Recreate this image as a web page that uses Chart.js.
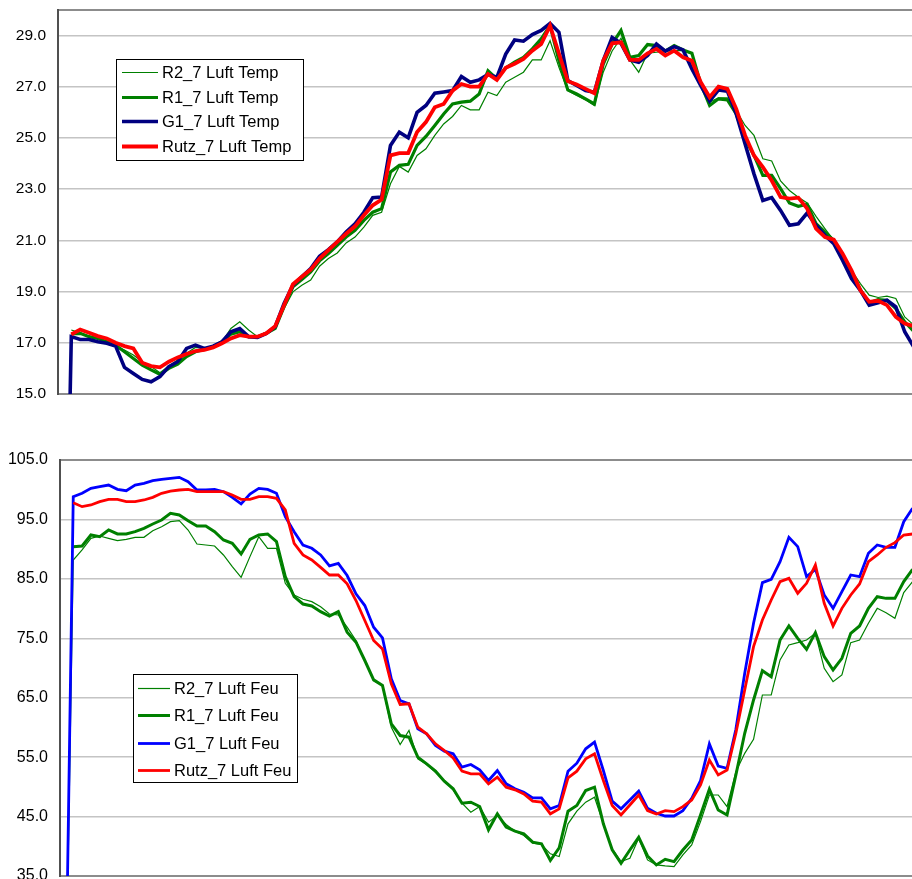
<!DOCTYPE html>
<html>
<head>
<meta charset="utf-8">
<script src="https://cdn.jsdelivr.net/npm/chart.js@4.4.1/dist/chart.umd.min.js"></script>
<style>
    html, body { margin: 0; padding: 0; background: #fff; overflow: hidden; width: 912px; height: 879px; }
    .panel { position: absolute; left: 0; }
    #tempPanel { top: 0; }
    #feuPanel { top: 448px; }
</style>
</head>
<body>
<div class="panel" id="tempPanel"><canvas id="tempChart" width="918" height="404"></canvas></div>
<div class="panel" id="feuPanel"><canvas id="feuChart" width="917" height="442"></canvas></div>
<script>
// sample index along the x axis (no labels shown on the original)
const steps = Array.from({ length: 97 }, (_, i) => i + 1);

// --- air temperature ---
const tempTicks = [15, 17, 19, 21, 23, 25, 27, 29];
const r2Temp = [null, 17.5, 17.39, 17.26, 17.17, 17.04, 16.87, 16.72, 16.52, 16.26, 16.07, 15.83, 16.09, 16.33, 16.59, 16.82, 16.78, 16.87, 17.04, 17.56, 17.82, 17.5, 17.24, 17.34, 17.56, 18.34, 18.99, 19.25, 19.45, 19.99, 20.29, 20.51, 20.9, 21.13, 21.52, 21.98, 22.1, 23.21, 23.89, 23.67, 24.32, 24.58, 25.1, 25.55, 25.84, 26.27, 26.1, 26.1, 26.79, 26.66, 27.18, 27.37, 27.57, 28.05, 28.05, 28.8, 27.76, 26.85, 26.66, 26.49, 26.27, 27.57, 28.4, 28.9, 28.05, 27.57, 28.31, 28.35, 28.39, 28.41, 28.41, 28.28, 27.05, 26.4, 26.57, 26.57, 26.07, 25.49, 25.1, 24.19, 24.1, 23.32, 22.95, 22.69, 22.46, 21.94, 21.46, 21.0, 20.38, 19.83, 19.31, 18.86, 18.77, 18.82, 18.73, 18.01, 17.7];
const r1Temp = [null, 17.35, 17.37, 17.24, 17.17, 17.04, 16.91, 16.65, 16.39, 16.13, 15.94, 15.77, 16.0, 16.17, 16.46, 16.65, 16.74, 16.85, 17.04, 17.34, 17.43, 17.24, 17.24, 17.37, 17.56, 18.41, 19.19, 19.47, 19.77, 20.2, 20.49, 20.81, 21.13, 21.39, 21.78, 22.1, 22.24, 23.67, 23.93, 23.97, 24.71, 25.06, 25.49, 25.94, 26.33, 26.4, 26.44, 26.72, 27.63, 27.31, 27.74, 27.96, 28.15, 28.48, 28.87, 29.39, 28.02, 26.88, 26.72, 26.53, 26.33, 27.89, 28.67, 29.2, 28.15, 28.22, 28.65, 28.61, 28.39, 28.61, 28.44, 28.31, 27.11, 26.27, 26.53, 26.49, 25.94, 24.97, 24.32, 23.54, 23.54, 23.02, 22.46, 22.33, 22.41, 21.65, 21.33, 21.0, 20.35, 19.7, 19.08, 18.56, 18.69, 18.66, 18.34, 17.82, 17.45];
const g1Temp = [0, 17.24, 17.13, 17.13, 17.04, 16.98, 16.87, 16.04, 15.8, 15.57, 15.48, 15.68, 16.07, 16.26, 16.78, 16.91, 16.78, 16.87, 17.04, 17.43, 17.56, 17.24, 17.21, 17.37, 17.63, 18.54, 19.25, 19.58, 19.9, 20.38, 20.64, 20.94, 21.33, 21.65, 22.1, 22.67, 22.69, 24.71, 25.23, 25.01, 26.0, 26.27, 26.75, 26.8, 26.85, 27.4, 27.18, 27.27, 27.48, 27.37, 28.28, 28.83, 28.78, 29.04, 29.2, 29.48, 29.13, 27.24, 27.05, 26.85, 26.79, 28.02, 28.93, 28.7, 28.05, 27.96, 28.22, 28.67, 28.39, 28.57, 28.44, 27.7, 27.05, 26.44, 26.88, 26.83, 25.94, 24.77, 23.6, 22.56, 22.67, 22.17, 21.59, 21.65, 22.07, 21.59, 21.2, 20.87, 20.22, 19.51, 19.05, 18.47, 18.56, 18.66, 18.4, 17.43, 16.85];
const rutzTemp = [null, 17.33, 17.52, 17.39, 17.26, 17.17, 17.0, 16.87, 16.78, 16.22, 16.09, 16.04, 16.26, 16.43, 16.56, 16.68, 16.72, 16.82, 16.98, 17.17, 17.3, 17.24, 17.24, 17.37, 17.65, 18.47, 19.29, 19.58, 19.86, 20.29, 20.62, 20.94, 21.26, 21.55, 21.98, 22.37, 22.59, 24.32, 24.41, 24.41, 25.23, 25.62, 26.2, 26.33, 26.85, 27.11, 27.01, 27.01, 27.5, 27.27, 27.74, 27.9, 28.09, 28.41, 28.67, 29.39, 28.3, 27.22, 27.09, 26.92, 26.75, 28.02, 28.7, 28.74, 28.05, 28.05, 28.31, 28.48, 28.22, 28.41, 28.15, 28.02, 27.18, 26.59, 27.01, 26.92, 26.14, 25.1, 24.32, 23.86, 23.34, 22.69, 22.63, 22.67, 22.24, 21.46, 21.13, 21.03, 20.48, 19.83, 19.05, 18.6, 18.64, 18.47, 18.01, 17.75, 17.65];

// --- air humidity ---
const feuTicks = [35, 45, 55, 65, 75, 85, 95, 105];
const r2Feu = [0, 88.17, 89.86, 91.82, 92.21, 91.82, 91.43, 91.65, 91.99, 91.99, 93.11, 93.78, 94.62, 94.79, 93.22, 90.87, 90.7, 90.53, 89.02, 87.05, 85.26, 88.74, 92.1, 90.14, 90.14, 84.25, 82.29, 81.56, 81.16, 80.32, 79.09, 78.92, 76.87, 74.62, 71.26, 67.89, 67.05, 60.04, 57.13, 59.48, 54.71, 53.76, 52.47, 50.96, 49.5, 47.25, 45.74, 46.69, 44.06, 45.18, 43.67, 42.55, 41.82, 40.53, 40.3, 38.73, 38.28, 43.78, 45.91, 47.42, 48.26, 43.78, 39.57, 37.42, 37.98, 41.34, 37.7, 36.86, 36.69, 36.58, 38.54, 40.22, 44.15, 48.63, 48.63, 46.67, 52.56, 55.64, 58.0, 65.46, 65.46, 71.35, 73.87, 74.27, 74.71, 75.84, 69.95, 67.7, 68.83, 74.27, 74.71, 77.52, 80.04, 79.31, 78.36, 82.68, 84.53];
const r1Feu = [null, 90.42, 90.53, 92.38, 92.1, 93.22, 92.55, 92.55, 92.94, 93.5, 94.23, 94.9, 96.03, 95.75, 94.79, 93.9, 93.9, 92.94, 91.54, 90.98, 89.18, 91.65, 92.38, 92.55, 91.26, 85.37, 82.0, 80.77, 80.43, 79.48, 78.75, 79.48, 76.03, 74.34, 71.26, 68.0, 67.05, 60.6, 58.64, 58.36, 55.0, 53.87, 52.64, 50.96, 49.67, 47.25, 47.42, 46.69, 42.77, 45.46, 43.22, 42.55, 42.1, 40.7, 40.41, 37.61, 39.74, 45.91, 46.86, 49.39, 49.95, 43.78, 39.4, 37.14, 39.38, 41.51, 38.37, 36.86, 37.81, 37.42, 39.38, 41.06, 45.27, 49.59, 46.11, 45.27, 52.0, 59.01, 64.62, 69.55, 68.54, 74.71, 77.07, 74.99, 73.14, 75.95, 71.91, 69.67, 71.63, 75.84, 77.07, 80.04, 82.0, 81.72, 81.72, 84.53, 86.6];
const g1Feu = [0, 98.83, 99.39, 100.23, 100.51, 100.79, 100.06, 99.84, 100.79, 101.07, 101.52, 101.75, 101.92, 102.08, 101.35, 99.95, 99.95, 100.06, 99.67, 98.72, 97.6, 99.28, 100.23, 100.06, 99.39, 95.47, 92.94, 90.7, 90.14, 89.02, 87.17, 87.6, 85.56, 82.48, 80.51, 76.87, 75.07, 68.17, 64.53, 63.97, 59.76, 58.92, 56.96, 56.0, 55.56, 53.31, 53.76, 52.86, 51.07, 52.75, 50.51, 49.67, 49.1, 48.15, 48.15, 46.3, 46.86, 52.64, 53.98, 56.4, 57.52, 52.75, 47.59, 46.3, 47.79, 49.3, 46.39, 45.55, 45.1, 45.1, 46.0, 48.07, 51.05, 57.22, 53.51, 53.12, 59.68, 69.11, 77.52, 84.36, 84.92, 87.89, 91.99, 90.42, 85.37, 86.6, 82.29, 80.04, 82.85, 85.65, 85.37, 89.3, 90.7, 90.31, 90.31, 94.62, 96.87];
const rutzFeu = [null, 97.82, 97.15, 97.43, 97.99, 98.38, 98.38, 97.99, 97.99, 98.27, 98.72, 99.39, 99.78, 99.95, 100.06, 99.67, 99.67, 99.67, 99.67, 99.11, 98.38, 98.38, 98.83, 98.83, 98.55, 96.59, 90.98, 89.02, 88.17, 86.94, 85.65, 85.65, 84.16, 81.35, 77.99, 74.62, 73.22, 67.33, 63.86, 63.97, 60.04, 58.92, 57.24, 56.12, 54.88, 52.64, 52.19, 52.19, 50.51, 51.63, 49.95, 49.5, 48.82, 47.59, 47.42, 45.46, 46.3, 51.52, 52.64, 54.71, 55.56, 51.07, 46.86, 45.27, 46.95, 48.63, 46.0, 45.44, 46.0, 45.83, 46.67, 47.79, 50.32, 54.52, 52.0, 52.84, 59.01, 66.3, 73.59, 78.08, 81.44, 84.53, 85.09, 82.57, 84.25, 87.33, 80.88, 77.07, 80.04, 82.29, 84.14, 87.89, 89.02, 90.31, 91.09, 92.38, 92.55];

const FONT = '"Liberation Sans", Arial, sans-serif';

// legend drawn as a framed box inside the plot, like the spreadsheet original
const boxLegend = {
    id: 'boxLegend',
    afterDraw(chart, args, o) {
        const ctx = chart.ctx;
        ctx.save();
        ctx.fillStyle = '#fff';
        ctx.fillRect(o.x, o.y, o.w, o.h);
        ctx.strokeStyle = '#000';
        ctx.lineWidth = 1;
        ctx.strokeRect(o.x + 0.5, o.y + 0.5, o.w, o.h);
        ctx.font = o.size + 'px ' + FONT;
        ctx.textBaseline = 'middle';
        ctx.textAlign = 'left';
        chart.data.datasets.forEach(function (ds, k) {
            let yy = Math.round(o.y + o.first + k * o.gap) + 0.5;
            ctx.strokeStyle = ds.borderColor;
            ctx.lineWidth = ds.borderWidth;
            ctx.beginPath();
            ctx.moveTo(o.x + o.lineFrom, yy);
            ctx.lineTo(o.x + o.lineTo, yy);
            ctx.stroke();
            ctx.fillStyle = '#000';
            ctx.fillText(ds.label, o.x + o.textAt, yy + 1);
        });
        ctx.restore();
    }
};

function series(label, data, color, width, order) {
    return {
        label: label, data: data, borderColor: color, backgroundColor: color,
        borderWidth: width, pointRadius: 0, pointHoverRadius: 0, tension: 0,
        fill: false, spanGaps: false, order: order
    };
}

function panelOptions(ticks, min, max, axisWidth, fontSize, pad, legend) {
    return {
        responsive: false,
        animation: false,
        devicePixelRatio: 1,
        layout: { padding: pad },
        plugins: { legend: { display: false }, tooltip: { enabled: false }, boxLegend: legend },
        scales: {
            x: { type: 'category', display: false, offset: true },
            y: {
                min: min, max: max,
                afterFit: function (scale) {
                    // fixed axis width, and no extra room asked for the end labels
                    scale.width = axisWidth;
                    scale.paddingTop = 0;
                    scale.paddingBottom = 0;
                },
                afterBuildTicks: function (scale) {
                    scale.ticks = ticks.concat(ticks.indexOf(max) < 0 ? [max] : []).map(function (v) { return { value: v }; });
                },
                border: { display: true, color: '#505050', width: 2 },
                grid: {
                    drawTicks: false,
                    color: function (c) {
                        if (c.tick && (c.tick.value === max || c.tick.value === min)) return '#8c8c8c';
                        return '#c4c4c4';
                    },
                    lineWidth: function (c) {
                        return (c.tick && (c.tick.value === min || c.tick.value === max)) ? 2 : 1.5;
                    }
                },
                ticks: {
                    padding: 12,
                    color: '#000',
                    font: { family: FONT, size: fontSize },
                    callback: function (v) { return ticks.indexOf(v) < 0 ? '' : v.toFixed(1); }
                }
            }
        }
    };
}

new Chart(document.getElementById('tempChart'), {
    type: 'line',
    data: {
        labels: steps,
        datasets: [
            series('R2_7 Luft Temp', r2Temp, '#008000', 1.2, 4),
            series('R1_7 Luft Temp', r1Temp, '#008000', 3.2, 3),
            series('G1_7 Luft Temp', g1Temp, '#000080', 3.6, 2),
            series('Rutz_7 Luft Temp', rutzTemp, '#ff0000', 3.8, 1)
        ]
    },
    options: panelOptions(tempTicks, 15, 30, 58, 15.5, { top: 10, bottom: 10, left: 0, right: 0 },
        { x: 116, y: 59, w: 187, h: 101, first: 13, gap: 24.7, lineFrom: 6, lineTo: 42, textAt: 46, size: 16.5 }),
    plugins: [boxLegend]
});

new Chart(document.getElementById('feuChart'), {
    type: 'line',
    data: {
        labels: steps,
        datasets: [
            series('R2_7 Luft Feu', r2Feu, '#008000', 1.2, 4),
            series('R1_7 Luft Feu', r1Feu, '#008000', 3, 3),
            series('G1_7 Luft Feu', g1Feu, '#0000ff', 2.8, 2),
            series('Rutz_7 Luft Feu', rutzFeu, '#ff0000', 2.8, 1)
        ]
    },
    options: panelOptions(feuTicks, 35, 105, 60, 16, { top: 12, bottom: 14, left: 0, right: 0 },
        { x: 133, y: 226, w: 164, h: 108, first: 14, gap: 27.3, lineFrom: 5, lineTo: 37, textAt: 41, size: 16.5 }),
    plugins: [boxLegend]
});
</script>
</body>
</html>
